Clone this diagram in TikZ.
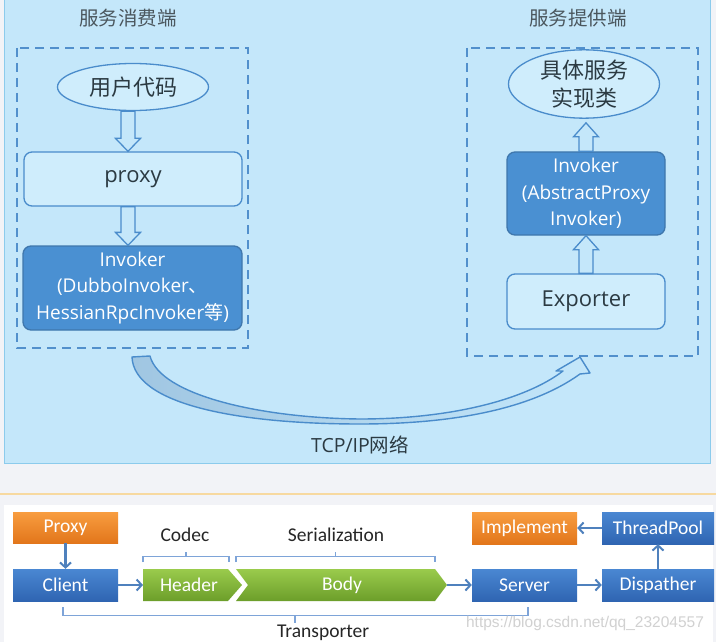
\documentclass[tikz,border=0pt]{standalone}
\usepackage{fontspec}
\setmainfont{Open Sans}
\newfontfamily\cjkfont{Noto Sans CJK SC}
\newfontfamily\calfont{Carlito}
\newfontfamily\wmfont{Liberation Sans}
\usetikzlibrary{calc,arrows.meta,shapes.geometric}
\definecolor{bggray}{HTML}{F2F3F7}
\definecolor{panel}{HTML}{C4E7FA}
\definecolor{panelborder}{HTML}{8CCBEC}
\definecolor{dashblue}{HTML}{5290CC}
\definecolor{boxblue}{HTML}{4A8CCB}
\definecolor{lightfill}{HTML}{CFEDFC}
\definecolor{darkfill}{HTML}{4A90D2}
\definecolor{textdark}{HTML}{2B3A42}
\definecolor{yline}{HTML}{F7D9A0}
\definecolor{bracketblue}{HTML}{7EA4D8}
\definecolor{arrowblue}{HTML}{4F81BD}
\definecolor{ortop}{HTML}{F89D40}
\definecolor{orbot}{HTML}{E2761B}
\definecolor{bltop}{HTML}{4A87D2}
\definecolor{blbot}{HTML}{2F65B2}
\definecolor{grtop}{HTML}{9ACB4C}
\definecolor{grbot}{HTML}{6C9E2A}
\definecolor{curvefill}{HTML}{A0C6E2}
\newcommand\downarr[2]{\path[draw=boxblue, line width=1.3pt, fill=panel, line join=miter]
  let \p1=#1, \p2=#2 in
  (\x1-7pt,\y1) -- (\x1+7pt,\y1) -- (\x1+7pt,\y2+13pt) -- (\x1+12.5pt,\y2+13pt) -- (\x1,\y2)
  -- (\x1-12.5pt,\y2+13pt) -- (\x1-7pt,\y2+13pt) -- cycle;}
\newcommand\uparr[2]{\path[draw=boxblue, line width=1.3pt, fill=panel, line join=miter]
  let \p1=#1, \p2=#2 in
  (\x1-7pt,\y1) -- (\x1+7pt,\y1) -- (\x1+7pt,\y2-14pt) -- (\x1+12.5pt,\y2-14pt) -- (\x1,\y2)
  -- (\x1-12.5pt,\y2-14pt) -- (\x1-7pt,\y2-14pt) -- cycle;}
\begin{document}
\begin{tikzpicture}[x=1pt,y=-1pt,
  lbox/.style={draw=boxblue, line width=1.3pt, fill=lightfill, rounded corners=8pt, inner sep=0pt, text=textdark, align=center},
  dbox/.style={draw=boxblue!85!black, line width=1.3pt, fill=darkfill, rounded corners=8pt, inner sep=0pt, text=white, align=center, font=\fontsize{19}{26.5}\selectfont},
  ell/.style={draw=boxblue, line width=1.3pt, fill=lightfill, ellipse, inner sep=0pt, text=textdark, align=center},
  dashbox/.style={draw=dashblue, line width=2.2pt, dash pattern=on 9pt off 6pt},
  title/.style={text=textdark!85, inner sep=0pt, font=\cjkfont\fontsize{19.5}{22}\selectfont},
  bb/.style={inner sep=0pt, text=white, font=\calfont\fontsize{19.5}{22}\selectfont, minimum height=32pt},
  orange/.style={bb, top color=ortop, bottom color=orbot},
  blue/.style={bb, top color=bltop, bottom color=blbot},
  blab/.style={inner sep=0pt, text=black!85, font=\calfont\fontsize{19.5}{22}\selectfont},
  brk/.style={draw=bracketblue, line width=1.3pt},
  barr/.style={draw=arrowblue, line width=2.2pt, -{Straight Barb[length=5pt,width=11pt,line width=2pt]}}
]
\useasboundingbox (0,0) rectangle (716,642);
\fill[bggray] (0,0) rectangle (716,642);
% top panel
\filldraw[fill=panel, draw=panelborder, line width=1pt] (4,0) rectangle (710,463);
\node[title] (t1) at (128,18) {服务消费端};
\node[title] (t2) at (578,18) {服务提供端};
\draw[dashbox] (17,48) rectangle (248,348);
\draw[dashbox] (467,48) rectangle (698,356);
% consumer side
\node[ell, minimum width=151pt, minimum height=47pt, font=\cjkfont\fontsize{22}{26}\selectfont] (uc) at (133,87) {用户代码};
\node[lbox, minimum width=218pt, minimum height=54pt, font=\fontsize{22}{26}\selectfont] (px) at (133,179) {proxy};
\node[dbox, minimum width=219pt, minimum height=84pt] (li) at (132.5,288)
  {Invoker\\(DubboInvoker{\cjkfont 、}\\HessianRpcInvoker{\cjkfont 等})};
\downarr{([xshift=-5pt]uc.south)}{([xshift=-5pt]px.north)}
\downarr{([xshift=-5pt]px.south)}{([xshift=-4.5pt]li.north)}
% provider side
\node[ell, minimum width=151pt, minimum height=54pt, font=\cjkfont\fontsize{22}{28}\selectfont] (impl) at (584,84) {具体服务\\实现类};
\node[dbox, minimum width=158pt, minimum height=83pt] (ri) at (586,193.5)
  {Invoker\\(AbstractProxy\\Invoker)};
\node[lbox, minimum width=158pt, minimum height=55pt, font=\fontsize{22}{26}\selectfont] (ex) at (586,301.5) {Exporter};
\uparr{(ri.north)}{([yshift=-4pt]ri.north |- impl.south)}
\uparr{(ex.north)}{(ri.south)}
% curved network arrow
\draw[draw=boxblue, line width=1.4pt, left color=curvefill, right color=panel, line join=round]
  (132,357) -- (150,356) .. controls (160,395) and (260,418) .. (360,419)
  .. controls (450,419) and (525,400) .. (563,371) -- (556,371) -- (580,357) -- (590,373) -- (580,374)
  .. controls (530,410) and (450,424) .. (360,424)
  .. controls (240,424) and (134,405) .. (132,357) -- cycle;
\node[inner sep=0pt, text=textdark, font=\fontsize{19.5}{22}\selectfont] (tcp) at (360,445) {TCP/IP{\cjkfont 网络}};
% bottom part
\draw[yline, line width=1.5pt] (0,494) -- (716,494);
\fill[white] (4,505) rectangle (713,642);
\node[orange, minimum width=105pt, minimum height=31pt] (pr) at (65.5,527.5) {Proxy};
\node[blue, minimum width=105pt] (cl) at (65.5,585) {Client};
\node[orange, minimum width=105pt] (im) at (524.5,528) {Implement};
\node[blue, minimum width=112pt] (tp) at (658,528) {ThreadPool};
\node[blue, minimum width=105pt] (sv) at (524.5,585) {Server};
\node[blue, minimum width=112pt] (dp) at (658,585) {Dispather};
\shade[top color=grtop, bottom color=grbot] (143,569) -- (228,569) -- (242,585) -- (228,601) -- (143,601) -- cycle;
\shade[top color=grtop, bottom color=grbot] (236,569) -- (435,569) -- (447,585) -- (435,601) -- (236,601) -- (248,585) -- cycle;
\coordinate (hdW) at (143,585);
\coordinate (bdE) at (447,585);
\node[inner sep=0pt, text=white, font=\calfont\fontsize{19.5}{22}\selectfont] (hd) at (189,585) {Header};
\node[inner sep=0pt, text=white, font=\calfont\fontsize{19.5}{22}\selectfont] (bd) at (342,585) {Body};
\node[blab] (codec) at (185,535) {Codec};
\node[blab] (ser) at (336,535) {Serialization};
\draw[brk] (143,562) -- (143,556.5) -- (229,556.5) -- (229,562);
\draw[brk] (186,556.5) -- (186,551.5);
\draw[brk] (236,562) -- (236,556.5) -- (435,556.5) -- (435,562);
\draw[brk] (335.5,556.5) -- (335.5,551.5);
\draw[brk] (63,607) -- (63,615.5) -- (528,615.5) -- (528,607);
\draw[brk] (295,615.5) -- (295,623);
\node[blab, anchor=base west] (tr) at (277,637) {Transporter};
\draw[barr] (pr) -- (cl);
\draw[barr] (cl) -- (hdW);
\draw[barr] (bdE) -- (sv);
\draw[barr] (sv) -- (dp);
\draw[barr] (dp) -- (tp);
\draw[barr] (tp) -- (im);
\node[inner sep=0pt, text=black!18, font=\wmfont\fontsize{15.5}{18}\selectfont] (wm) at (585,623) {https://blog.csdn.net/qq\_23204557};
\end{tikzpicture}
\end{document}
